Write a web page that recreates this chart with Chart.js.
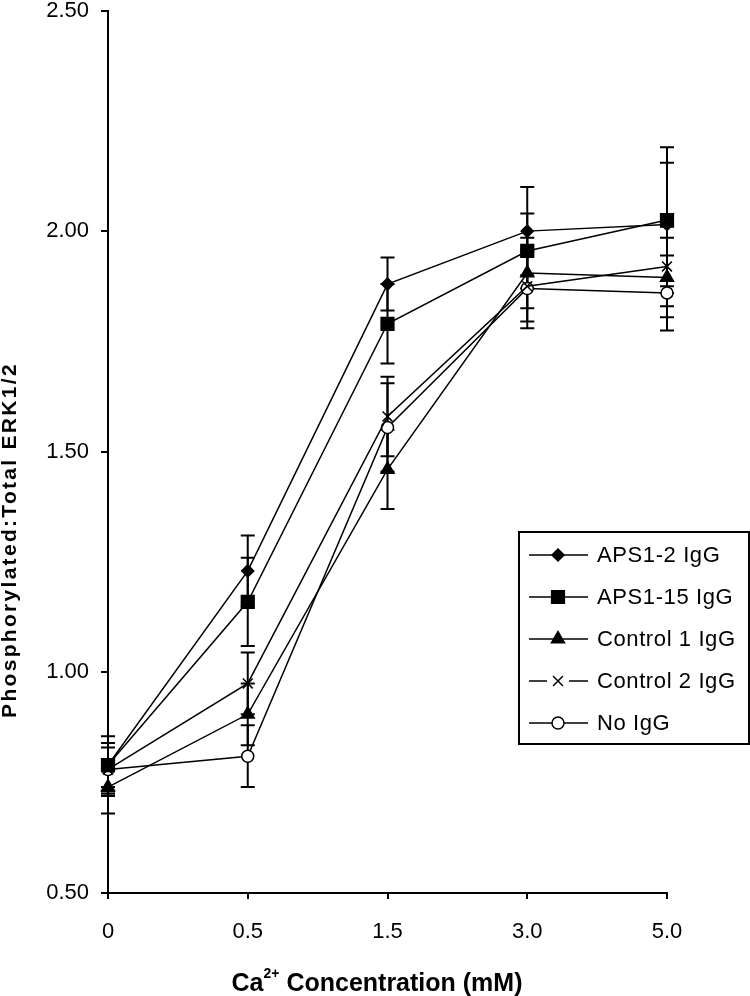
<!DOCTYPE html>
<html>
<head>
<meta charset="utf-8">
<script src="https://cdn.jsdelivr.net/npm/chart.js@4.4.1/dist/chart.umd.min.js"></script>
<style>
  html, body { margin: 0; padding: 0; background: #fff; }
  #wrap { width: 750px; height: 996px; position: relative; }
</style>
</head>
<body>
<div id="wrap"><canvas id="erkChart"></canvas></div>
<script>
// Ca2+ concentrations (mM) on the x axis
const concLabels = ['0', '0.5', '1.5', '3.0', '5.0'];

// phosphorylated:total ERK1/2 ratios
const aps12 = [0.79, 1.23, 1.88, 2.00, 2.015];
const aps115 = [0.79, 1.16, 1.79, 1.955, 2.025];
const control1 = [0.74, 0.905, 1.46, 1.905, 1.895];
const control2 = [0.78, 0.975, 1.58, 1.875, 1.92];
const noIgg = [0.78, 0.81, 1.555, 1.87, 1.86];

// error bar half-lengths
const aps12Err = [0.065, 0.08, 0.06, 0.10, 0.14];
const aps115Err = [0.05, 0.10, 0.09, 0.085, 0.165];
const control1Err = [0.06, 0.07, 0.09, 0.08, 0.09];
const control2Err = [0.05, 0.07, 0.09, 0.08, 0.09];
const noIggErr = [0.06, 0.07, 0.10, 0.09, 0.085];

const seriesNames = ['APS1-2 IgG', 'APS1-15 IgG', 'Control 1 IgG', 'Control 2 IgG', 'No IgG'];
const yMin = 0.5, yMax = 2.5, yStep = 0.5;

const FONT = "'Liberation Sans', Arial, sans-serif";

function makeSet(label, data, errors, style, radius, fill) {
  return {
    label: label,
    data: data,
    errors: errors,
    borderColor: '#000',
    borderWidth: 1.5,
    pointStyle: style,
    pointRadius: radius,
    pointHoverRadius: radius,
    pointBackgroundColor: fill,
    pointBorderColor: '#000',
    pointBorderWidth: 1.5,
    tension: 0,
    fill: false
  };
}

const errorBars = {
  id: 'errorBars',
  beforeDatasetsDraw(chart) {
    const ctx = chart.ctx;
    const y = chart.scales.y;
    ctx.save();
    ctx.strokeStyle = '#000';
    ctx.lineWidth = 2;
    chart.data.datasets.forEach((ds, i) => {
      const meta = chart.getDatasetMeta(i);
      meta.data.forEach((pt, j) => {
        const e = ds.errors[j];
        const top = y.getPixelForValue(ds.data[j] + e);
        const bot = y.getPixelForValue(ds.data[j] - e);
        ctx.beginPath();
        ctx.moveTo(pt.x, top); ctx.lineTo(pt.x, bot);
        ctx.moveTo(pt.x - 7, top); ctx.lineTo(pt.x + 7, top);
        ctx.moveTo(pt.x - 7, bot); ctx.lineTo(pt.x + 7, bot);
        ctx.stroke();
      });
    });
    ctx.restore();
  }
};

const boxLegend = {
  id: 'boxLegend',
  afterDraw(chart) {
    const ctx = chart.ctx;
    const left = 519, top = 532, w = 230, h = 212;
    ctx.save();
    ctx.fillStyle = '#fff';
    ctx.fillRect(left, top, w, h);
    ctx.strokeStyle = '#000';
    ctx.lineWidth = 2;
    ctx.strokeRect(left, top, w, h);
    ctx.font = '22px ' + FONT;
    ctx.letterSpacing = '0.6px';
    ctx.textBaseline = 'middle';
    chart.data.datasets.forEach((ds, i) => {
      const cy = top + 23 + i * 42;
      ctx.strokeStyle = '#000';
      ctx.lineWidth = 1.5;
      ctx.beginPath();
      if (ds.pointStyle === 'crossRot') {
        ctx.moveTo(529, cy); ctx.lineTo(547, cy);
        ctx.moveTo(569, cy); ctx.lineTo(588, cy);
      } else {
        ctx.moveTo(529, cy); ctx.lineTo(588, cy);
      }
      ctx.stroke();
      ctx.fillStyle = ds.pointBackgroundColor;
      ctx.strokeStyle = '#000';
      Chart.helpers.drawPoint(ctx, {
        pointStyle: ds.pointStyle,
        radius: ds.pointRadius,
        rotation: 0,
        borderWidth: 1.5
      }, 558, cy);
      ctx.fillStyle = '#000';
      ctx.fillText(ds.label, 597, cy + 1);
    });
    ctx.restore();
  }
};

const axisTitles = {
  id: 'axisTitles',
  afterDraw(chart) {
    const ctx = chart.ctx;
    const area = chart.chartArea;
    ctx.save();
    ctx.fillStyle = '#000';
    ctx.textBaseline = 'middle';
    // y title
    ctx.font = 'bold 21px ' + FONT;
    ctx.letterSpacing = '2.3px';
    ctx.translate(10, area.top + (area.bottom - area.top) * 0.6);
    ctx.rotate(-Math.PI / 2);
    ctx.textAlign = 'center';
    ctx.fillText('Phosphorylated:Total ERK1/2', 0, 0);
    ctx.restore();

    // x title with superscript
    ctx.save();
    ctx.fillStyle = '#000';
    ctx.textBaseline = 'alphabetic';
    ctx.textAlign = 'left';
    const bigFont = 'bold 25px ' + FONT;
    const supFont = 'bold 14px ' + FONT;
    ctx.font = bigFont;
    const wCa = ctx.measureText('Ca').width;
    const rest = ' Concentration (mM)';
    const wRest = ctx.measureText(rest).width;
    ctx.font = supFont;
    const wSup = ctx.measureText('2+').width;
    const total = wCa + wSup + wRest;
    let x = 377 - total / 2;
    const base = 991;
    ctx.font = bigFont;
    ctx.fillText('Ca', x, base);
    x += wCa;
    ctx.font = supFont;
    ctx.fillText('2+', x, base - 13);
    x += wSup;
    ctx.font = bigFont;
    ctx.fillText(rest, x, base);
    ctx.restore();
  }
};

new Chart(document.getElementById('erkChart'), {
  type: 'line',
  data: {
    labels: concLabels,
    datasets: [
      makeSet(seriesNames[0], aps12, aps12Err, 'rectRot', 6, '#000'),
      makeSet(seriesNames[1], aps115, aps115Err, 'rect', 9, '#000'),
      makeSet(seriesNames[2], control1, control1Err, 'triangle', 7.5, '#000'),
      makeSet(seriesNames[3], control2, control2Err, 'crossRot', 7, '#000'),
      makeSet(seriesNames[4], noIgg, noIggErr, 'circle', 6, '#fff')
    ]
  },
  options: {
    responsive: true,
    maintainAspectRatio: false,
    animation: false,
    events: [],
    layout: { padding: { top: 10, right: 83, left: 0, bottom: 0 } },
    plugins: {
      legend: { display: false },
      tooltip: { enabled: false }
    },
    scales: {
      x: {
        type: 'category',
        offset: false,
        grid: { drawOnChartArea: false, drawTicks: true, tickLength: 6, color: '#000', lineWidth: 2 },
        border: { display: true, color: '#000', width: 2 },
        ticks: { color: '#000', font: { family: FONT, size: 22 }, padding: 20, maxRotation: 0, autoSkip: false },
        afterFit(scale) { scale.height = 103; }
      },
      y: {
        min: yMin,
        max: yMax,
        grid: { drawOnChartArea: false, drawTicks: true, tickLength: 7, color: '#000', lineWidth: 2 },
        border: { display: true, color: '#000', width: 2 },
        ticks: {
          stepSize: yStep,
          color: '#000',
          font: { family: FONT, size: 22 },
          padding: 12,
          callback: v => Number(v).toFixed(2)
        },
        afterFit(scale) {
          scale.width = 108;
          scale.paddingTop = 0;
          scale.paddingBottom = 0;
        }
      }
    }
  },
  plugins: [errorBars, boxLegend, axisTitles]
});
</script>
</body>
</html>
